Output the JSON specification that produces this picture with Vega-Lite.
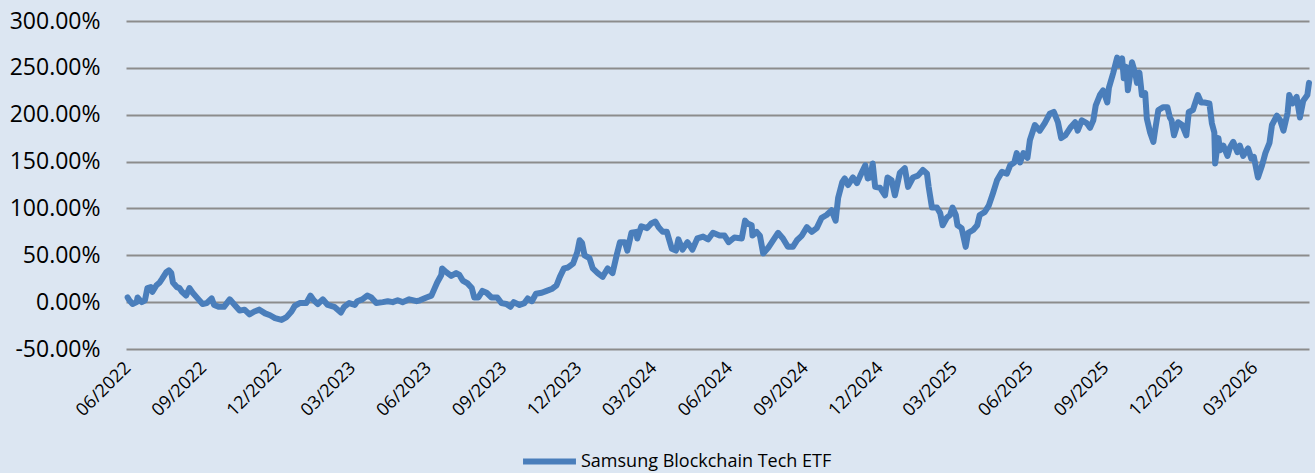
{
  "$schema": "https://vega.github.io/schema/vega-lite/v6.json",
  "width": 1183,
  "height": 328,
  "autosize": {"type": "none"},
  "padding": {"left": 126, "top": 21, "right": 6, "bottom": 124},
  "background": "#dce6f2",
  "config": {"view": {"stroke": null}, "font": "Open Sans"},
  "data": {"values": [
    {"d":"2022-06-01","v":5},{"d":"2022-06-03","v":2},{"d":"2022-06-07","v":-2},{"d":"2022-06-12","v":0},{"d":"2022-06-13","v":5},{"d":"2022-06-18","v":0},{"d":"2022-06-22","v":2},{"d":"2022-06-25","v":15},{"d":"2022-06-29","v":16},{"d":"2022-07-01","v":11},{"d":"2022-07-06","v":18},{"d":"2022-07-10","v":21},{"d":"2022-07-13","v":25},{"d":"2022-07-18","v":32},{"d":"2022-07-21","v":34},{"d":"2022-07-24","v":31},{"d":"2022-07-26","v":21},{"d":"2022-07-31","v":16},{"d":"2022-08-03","v":15},{"d":"2022-08-06","v":11},{"d":"2022-08-11","v":7},{"d":"2022-08-15","v":15},{"d":"2022-08-19","v":10},{"d":"2022-08-25","v":4},{"d":"2022-08-31","v":-2},{"d":"2022-09-05","v":-1},{"d":"2022-09-11","v":4},{"d":"2022-09-14","v":-3},{"d":"2022-09-20","v":-5},{"d":"2022-09-26","v":-5},{"d":"2022-10-03","v":3},{"d":"2022-10-09","v":-3},{"d":"2022-10-15","v":-9},{"d":"2022-10-21","v":-8},{"d":"2022-10-27","v":-13},{"d":"2022-11-02","v":-10},{"d":"2022-11-08","v":-8},{"d":"2022-11-15","v":-12},{"d":"2022-11-21","v":-14},
    {"d":"2022-11-27","v":-17},{"d":"2022-12-05","v":-19},{"d":"2022-12-11","v":-16},{"d":"2022-12-17","v":-10},{"d":"2022-12-21","v":-4},{"d":"2022-12-27","v":-1},{"d":"2023-01-04","v":-1},{"d":"2023-01-09","v":7},{"d":"2023-01-13","v":2},{"d":"2023-01-18","v":-2},{"d":"2023-01-24","v":3},{"d":"2023-01-30","v":-3},{"d":"2023-02-07","v":-5},{"d":"2023-02-15","v":-11},{"d":"2023-02-19","v":-5},{"d":"2023-02-25","v":-1},{"d":"2023-03-04","v":-3},{"d":"2023-03-07","v":1},{"d":"2023-03-13","v":3},{"d":"2023-03-19","v":7},{"d":"2023-03-24","v":5},{"d":"2023-03-30","v":-1},{"d":"2023-04-07","v":0},{"d":"2023-04-13","v":1},{"d":"2023-04-19","v":0},{"d":"2023-04-25","v":2},{"d":"2023-05-01","v":0},{"d":"2023-05-09","v":3},{"d":"2023-05-18","v":1},
    {"d":"2023-05-22","v":2},{"d":"2023-05-30","v":5},{"d":"2023-06-05","v":7},{"d":"2023-06-09","v":15},{"d":"2023-06-12","v":21},{"d":"2023-06-17","v":29},{"d":"2023-06-18","v":36},{"d":"2023-06-23","v":32},{"d":"2023-06-29","v":28},{"d":"2023-07-05","v":31},{"d":"2023-07-09","v":29},{"d":"2023-07-13","v":23},{"d":"2023-07-19","v":20},{"d":"2023-07-24","v":15},{"d":"2023-07-27","v":5},{"d":"2023-08-01","v":5},{"d":"2023-08-06","v":12},{"d":"2023-08-11","v":10},{"d":"2023-08-17","v":5},{"d":"2023-08-24","v":5},{"d":"2023-08-29","v":-1},{"d":"2023-09-04","v":-2},{"d":"2023-09-09","v":-5},{"d":"2023-09-13","v":0},{"d":"2023-09-20","v":-3},{"d":"2023-09-26","v":-1},{"d":"2023-09-30","v":4},{"d":"2023-10-05","v":1},{"d":"2023-10-10","v":9},{"d":"2023-10-17","v":10},{"d":"2023-10-23","v":12},{"d":"2023-10-29","v":14},{"d":"2023-11-04","v":18},{"d":"2023-11-08","v":27},{"d":"2023-11-13","v":36},{"d":"2023-11-18","v":37},
    {"d":"2023-11-24","v":41},{"d":"2023-11-29","v":53},{"d":"2023-12-02","v":66},{"d":"2023-12-05","v":63},{"d":"2023-12-08","v":50},{"d":"2023-12-14","v":47},{"d":"2023-12-18","v":36},{"d":"2023-12-24","v":31},{"d":"2023-12-30","v":27},{"d":"2024-01-05","v":36},{"d":"2024-01-11","v":31},{"d":"2024-01-16","v":50},{"d":"2024-01-20","v":64},{"d":"2024-01-26","v":64},{"d":"2024-01-29","v":55},{"d":"2024-02-03","v":74},{"d":"2024-02-09","v":75},{"d":"2024-02-10","v":68},{"d":"2024-02-15","v":81},{"d":"2024-02-22","v":79},{"d":"2024-02-27","v":84},{"d":"2024-03-03","v":86},{"d":"2024-03-07","v":80},{"d":"2024-03-12","v":75},{"d":"2024-03-17","v":75},{"d":"2024-03-23","v":57},{"d":"2024-03-28","v":55},{"d":"2024-03-31","v":67},{"d":"2024-04-05","v":56},{"d":"2024-04-11","v":64},{"d":"2024-04-17","v":56},{"d":"2024-04-23","v":68},{"d":"2024-04-30","v":70},{"d":"2024-05-06","v":67},{"d":"2024-05-12","v":74},{"d":"2024-05-20","v":71},
    {"d":"2024-05-26","v":71},{"d":"2024-05-31","v":64},{"d":"2024-06-07","v":69},{"d":"2024-06-16","v":68},{"d":"2024-06-20","v":87},{"d":"2024-06-23","v":84},{"d":"2024-06-28","v":82},{"d":"2024-06-29","v":71},{"d":"2024-07-04","v":75},{"d":"2024-07-08","v":71},{"d":"2024-07-12","v":52},{"d":"2024-07-18","v":58},{"d":"2024-07-24","v":66},{"d":"2024-07-30","v":74},{"d":"2024-08-05","v":68},{"d":"2024-08-11","v":59},{"d":"2024-08-17","v":59},{"d":"2024-08-22","v":66},{"d":"2024-08-28","v":71},{"d":"2024-09-03","v":80},{"d":"2024-09-09","v":75},{"d":"2024-09-15","v":79},{"d":"2024-09-21","v":90},{"d":"2024-09-27","v":93},{"d":"2024-10-03","v":98},{"d":"2024-10-08","v":87},{"d":"2024-10-11","v":111},{"d":"2024-10-16","v":128},{"d":"2024-10-19","v":132},{"d":"2024-10-23","v":125},{"d":"2024-10-29","v":133},{"d":"2024-11-03","v":127},{"d":"2024-11-07","v":135},{"d":"2024-11-13","v":146},{"d":"2024-11-16","v":132},
    {"d":"2024-11-19","v":133},{"d":"2024-11-22","v":148},{"d":"2024-11-25","v":123},{"d":"2024-12-01","v":122},{"d":"2024-12-07","v":114},{"d":"2024-12-10","v":133},{"d":"2024-12-15","v":130},{"d":"2024-12-19","v":114},{"d":"2024-12-25","v":138},{"d":"2024-12-31","v":143},{"d":"2025-01-04","v":123},{"d":"2025-01-10","v":133},{"d":"2025-01-16","v":135},{"d":"2025-01-22","v":141},{"d":"2025-01-27","v":137},{"d":"2025-01-29","v":123},{"d":"2025-02-02","v":101},{"d":"2025-02-08","v":101},{"d":"2025-02-12","v":95},{"d":"2025-02-15","v":82},{"d":"2025-02-20","v":90},{"d":"2025-02-24","v":93},{"d":"2025-02-27","v":101},{"d":"2025-03-03","v":93},{"d":"2025-03-05","v":82},{"d":"2025-03-10","v":79},{"d":"2025-03-15","v":59},{"d":"2025-03-18","v":74},{"d":"2025-03-24","v":77},{"d":"2025-03-29","v":82},{"d":"2025-04-01","v":93},{"d":"2025-04-07","v":96},{"d":"2025-04-12","v":103},{"d":"2025-04-17","v":116},{"d":"2025-04-22","v":130},{"d":"2025-04-28","v":139},{"d":"2025-05-04","v":137},{"d":"2025-05-08","v":146},{"d":"2025-05-13","v":149},{"d":"2025-05-16","v":159},{"d":"2025-05-20","v":149},
    {"d":"2025-05-24","v":159},{"d":"2025-05-29","v":154},{"d":"2025-06-01","v":173},{"d":"2025-06-07","v":189},{"d":"2025-06-13","v":183},{"d":"2025-06-19","v":191},{"d":"2025-06-25","v":201},{"d":"2025-06-30","v":203},{"d":"2025-07-05","v":192},{"d":"2025-07-09","v":175},{"d":"2025-07-14","v":178},{"d":"2025-07-20","v":186},{"d":"2025-07-26","v":192},{"d":"2025-07-29","v":183},{"d":"2025-08-03","v":194},{"d":"2025-08-09","v":191},{"d":"2025-08-13","v":186},{"d":"2025-08-17","v":194},{"d":"2025-08-20","v":210},{"d":"2025-08-25","v":221},{"d":"2025-08-29","v":226},{"d":"2025-09-03","v":213},{"d":"2025-09-05","v":229},{"d":"2025-09-10","v":244},{"d":"2025-09-15","v":261},{"d":"2025-09-17","v":253},{"d":"2025-09-21","v":260},{"d":"2025-09-23","v":239},{"d":"2025-09-26","v":251},{"d":"2025-09-28","v":226},{"d":"2025-10-03","v":256},{"d":"2025-10-07","v":244},{"d":"2025-10-09","v":234},{"d":"2025-10-12","v":245},{"d":"2025-10-15","v":221},{"d":"2025-10-19","v":223},{"d":"2025-10-21","v":196},{"d":"2025-10-25","v":181},{"d":"2025-10-29","v":171},{"d":"2025-10-31","v":183},{"d":"2025-11-04","v":205},{"d":"2025-11-10","v":208},{"d":"2025-11-15","v":208},{"d":"2025-11-18","v":197},
    {"d":"2025-11-20","v":194},{"d":"2025-11-23","v":178},{"d":"2025-11-28","v":192},{"d":"2025-12-03","v":189},{"d":"2025-12-08","v":178},{"d":"2025-12-11","v":203},{"d":"2025-12-16","v":205},{"d":"2025-12-22","v":221},{"d":"2025-12-26","v":213},{"d":"2025-12-30","v":213},{"d":"2026-01-05","v":212},{"d":"2026-01-08","v":191},{"d":"2026-01-11","v":181},{"d":"2026-01-12","v":148},{"d":"2026-01-16","v":175},{"d":"2026-01-18","v":162},{"d":"2026-01-22","v":167},{"d":"2026-01-27","v":156},{"d":"2026-01-30","v":165},{"d":"2026-02-03","v":171},{"d":"2026-02-08","v":160},{"d":"2026-02-11","v":167},{"d":"2026-02-15","v":156},{"d":"2026-02-21","v":164},{"d":"2026-02-25","v":153},{"d":"2026-02-28","v":155},{"d":"2026-03-05","v":133},{"d":"2026-03-10","v":146},{"d":"2026-03-14","v":159},{"d":"2026-03-19","v":170},{"d":"2026-03-22","v":189},{"d":"2026-03-28","v":199},{"d":"2026-04-01","v":194},{"d":"2026-04-05","v":183},{"d":"2026-04-10","v":202},{"d":"2026-04-12","v":221},{"d":"2026-04-16","v":212},{"d":"2026-04-21","v":219},{"d":"2026-04-25","v":197},{"d":"2026-04-29","v":215},{"d":"2026-05-04","v":221},{"d":"2026-05-06","v":234}
  ]},
  "mark": {"type": "line", "strokeWidth": 6, "strokeCap": "round", "strokeJoin": "round"},
  "encoding": {
    "x": {
      "field": "d", "type": "temporal",
      "scale": {"type": "utc", "domain": [{"year": 2022, "month": 5, "date": 30, "utc": true}, {"year": 2026, "month": 5, "date": 6, "utc": true}]},
      "axis": {
        "values": [
          {"year": 2022, "month": 6, "date": 1, "utc": true},{"year": 2022, "month": 9, "date": 1, "utc": true},{"year": 2022, "month": 12, "date": 1, "utc": true},
          {"year": 2023, "month": 3, "date": 1, "utc": true},{"year": 2023, "month": 6, "date": 1, "utc": true},{"year": 2023, "month": 9, "date": 1, "utc": true},{"year": 2023, "month": 12, "date": 1, "utc": true},
          {"year": 2024, "month": 3, "date": 1, "utc": true},{"year": 2024, "month": 6, "date": 1, "utc": true},{"year": 2024, "month": 9, "date": 1, "utc": true},{"year": 2024, "month": 12, "date": 1, "utc": true},
          {"year": 2025, "month": 3, "date": 1, "utc": true},{"year": 2025, "month": 6, "date": 1, "utc": true},{"year": 2025, "month": 9, "date": 1, "utc": true},{"year": 2025, "month": 12, "date": 1, "utc": true},
          {"year": 2026, "month": 3, "date": 1, "utc": true}
        ],
        "labelExpr": "utcFormat(datum.value, '%m/%Y')",
        "labelAngle": -45, "labelAlign": "right", "labelBaseline": "middle",
        "labelFontSize": 18, "labelColor": "#000000", "labelPadding": 16,
        "labelOverlap": false, "labelFlush": false,
        "ticks": false, "domain": false, "grid": false, "title": null
      }
    },
    "y": {
      "field": "v", "type": "quantitative",
      "scale": {"domain": [-50, 300], "nice": false, "zero": false},
      "axis": {
        "values": [-50, 0, 50, 100, 150, 200, 250, 300],
        "labelExpr": "(datum.value < 0 ? '-' : '') + format(abs(datum.value), '.2f') + '%'",
        "labelFontSize": 23, "labelColor": "#000000", "labelPadding": 26,
        "ticks": false, "domain": false, "grid": true, "gridColor": "#8c8c8c", "gridWidth": 2,
        "title": null
      }
    },
    "color": {
      "datum": "Samsung Blockchain Tech ETF",
      "scale": {"range": ["#4a7ebb"]},
      "legend": {
        "orient": "none", "legendX": 394, "legendY": 411, "title": null,
        "symbolType": "stroke", "symbolStrokeWidth": 6, "symbolSize": 2800,
        "labelFontSize": 18, "labelColor": "#000000", "labelOffset": 2, "labelLimit": 600
      }
    }
  }
}
